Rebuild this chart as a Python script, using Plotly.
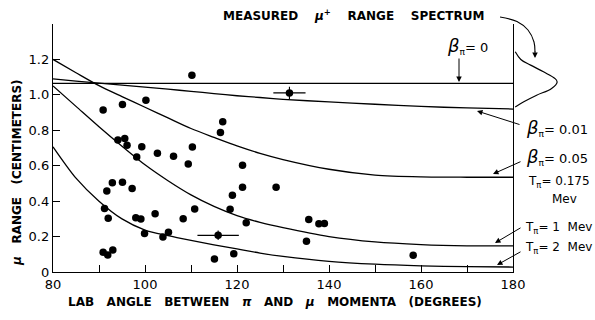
import plotly.graph_objects as go

# ---------------- data ----------------
# measured events: lab angle (deg) and mu range (cm)
event_angle = [110.2, 90.9, 95.1, 100.2, 116.9, 116.4, 94.1, 95.6, 96.1, 99.3,
               102.7, 106.2, 110.3, 109.4, 98.2, 121.2, 128.5, 121.2, 119.0, 118.5,
               122.0, 91.7, 92.9, 95.1, 97.2, 91.2, 92.0, 98.0, 99.1, 102.2,
               108.3, 110.8, 99.9, 103.9, 105.1, 115.1, 119.3, 90.9, 91.9, 93.0,
               135.6, 137.8, 139.0, 135.1, 158.3]
event_range = [1.111, 0.914, 0.946, 0.970, 0.848, 0.788, 0.745, 0.754, 0.716, 0.707,
               0.671, 0.654, 0.705, 0.609, 0.649, 0.603, 0.479, 0.478, 0.433, 0.354,
               0.278, 0.457, 0.504, 0.506, 0.472, 0.359, 0.303, 0.306, 0.299, 0.329,
               0.301, 0.355, 0.218, 0.197, 0.224, 0.073, 0.103, 0.111, 0.096, 0.124,
               0.297, 0.272, 0.274, 0.173, 0.094]

# events with error bars
err_angle = [131.4, 115.9]
err_range = [1.011, 0.207]
err_dangle = [3.5, 4.5]
err_drange = [0.035, 0.027]

# theoretical curves
curve_angle = [80, 85, 90, 95, 100, 105, 110, 115, 120, 125, 130, 140, 150, 160, 170, 180]
beta0_angle = [80, 180]
beta0_range = [1.065, 1.065]
beta001_range = [1.090, 1.078, 1.066, 1.055, 1.044, 1.032, 1.020, 1.007, 0.995, 0.985,
                 0.975, 0.960, 0.947, 0.935, 0.926, 0.920]
beta005_range = [1.200, 1.125, 1.052, 0.990, 0.930, 0.870, 0.810, 0.760, 0.712, 0.670,
                 0.635, 0.580, 0.547, 0.537, 0.535, 0.535]
t1_range = [1.050, 0.935, 0.820, 0.710, 0.605, 0.515, 0.435, 0.370, 0.318, 0.280,
            0.250, 0.200, 0.170, 0.155, 0.148, 0.147]
t2_range = [0.707, 0.530, 0.400, 0.300, 0.237, 0.205, 0.178, 0.153, 0.130, 0.107,
            0.088, 0.060, 0.044, 0.035, 0.030, 0.028]

# measured mu+ range spectrum (range in cm, relative counts)
spectrum_range = [1.243, 1.200, 1.168, 1.130, 1.092, 1.073, 1.036, 0.998, 0.961, 0.932]
spectrum_counts = [0.02, 0.15, 0.38, 0.68, 0.95, 1.00, 0.87, 0.52, 0.22, 0.02]

x_ticks = [80, 100, 120, 140, 160, 180]
y_ticks = [0, 0.2, 0.4, 0.6, 0.8, 1.0, 1.2]
y_ticktext = ["0", "0.2", "0.4", "0.6", "0.8", "1.0", "1.2"]

# ---------------- geometry ----------------
W, H = 595, 320
ML, MB = 53, 48
PW, PH = W - ML, H - MB
PPD = 4.6        # px per degree
PPC = 248 / 1.4  # px per cm
X_END = 80 + PW / PPD
Y_END = PH / PPC


def P(xp, yp):
    """pixel -> overlay (x2, y2) coordinates"""
    return 80 + (xp - ML) / PPD, (PH - yp) / PPC


def Q(xp, yp):
    """pixel -> paper coordinates"""
    return (xp - ML) / PW, (PH - yp) / PH


FONT = "DejaVu Sans"
ink = "black"

fig = go.Figure()

fig.add_trace(go.Scatter(x=beta0_angle, y=beta0_range, mode="lines",
                         line=dict(color=ink, width=1.3)))
for yr in (beta001_range, beta005_range, t1_range, t2_range):
    fig.add_trace(go.Scatter(x=curve_angle, y=yr, mode="lines",
                             line=dict(color=ink, width=1.3, shape="spline", smoothing=0.8)))

fig.add_trace(go.Scatter(x=event_angle, y=event_range, mode="markers",
                         marker=dict(color=ink, size=7.5)))
fig.add_trace(go.Scatter(x=err_angle, y=err_range, mode="markers",
                         marker=dict(color=ink, size=7.5),
                         error_x=dict(type="data", array=err_dangle, width=0, thickness=1.1, color=ink),
                         error_y=dict(type="data", array=err_drange, width=0, thickness=1.1, color=ink)))

# spectrum (on overlay axes, outside the frame)
fig.add_trace(go.Scatter(x=[180.3 + c * 9.3 for c in spectrum_counts], y=spectrum_range,
                         mode="lines", line=dict(color=ink, width=1.2, shape="spline"),
                         xaxis="x2", yaxis="y2"))
# curved arrow from title to spectrum
arc = [P(500, 17), P(517, 21.5), P(528, 30), P(534, 42), P(535, 52)]
fig.add_trace(go.Scatter(x=[a[0] for a in arc], y=[a[1] for a in arc], mode="lines",
                         line=dict(color=ink, width=1.1, shape="spline"),
                         xaxis="x2", yaxis="y2"))

ann = []


def text(xp, yp, s, size=12, xanchor="center", angle=0, weight="normal"):
    x, y = Q(xp, yp)
    ann.append(dict(x=x, y=y, xref="paper", yref="paper", text=s, showarrow=False,
                    xanchor=xanchor, yanchor="middle", textangle=angle,
                    font=dict(family=FONT, size=size, color=ink, weight=weight)))


def arrow(x0, y0, x1, y1):
    hx, hy = P(x1, y1)
    tx, ty = P(x0, y0)
    ann.append(dict(x=hx, y=hy, ax=tx, ay=ty, xref="x2", yref="y2", axref="x2", ayref="y2",
                    text="", showarrow=True, arrowhead=2, arrowsize=1.1, arrowwidth=1,
                    arrowcolor=ink))


sp = "&nbsp;" * 4
text(353, 15, "MEASURED" + sp + "<i>μ</i><sup>+</sup>" + sp + "RANGE" + sp + "SPECTRUM",
     size=12, weight="bold")
s2 = "&nbsp;" * 3
text(275, 302, s2.join(["LAB", "ANGLE", "BETWEEN", "<i>π</i>", "AND", "<i>μ</i>",
                        "MOMENTA", "(DEGREES)"]), size=12, weight="bold")
text(17, 173, s2.join(["<i>μ</i>", "RANGE", "(CENTIMETERS)"]), size=12, angle=-90, weight="bold")

beta = "<span style='font-size:18px'><i>β</i></span><sub>π</sub>"
text(467, 46, beta + "= 0", size=13)
arrow(459, 57, 459, 82)

text(524, 128, beta + "= 0.01", size=13, xanchor="left")
arrow(521, 125, 477, 111)
text(524, 157, beta + "= 0.05", size=13, xanchor="left")
arrow(522, 161, 493, 174)
text(526, 182, "T<sub>π</sub>= 0.175", size=12, xanchor="left")
text(579, 199, "Mev", size=12, xanchor="right")
text(523, 228, "T<sub>π</sub>= 1  Mev", size=12, xanchor="left")
arrow(522, 227, 495, 243)
text(523, 248, "T<sub>π</sub>= 2  Mev", size=12, xanchor="left")
arrow(522, 251, 497, 265)
arrow(535, 50, 535, 58)

fig.update_layout(
    width=W, height=H,
    margin=dict(l=ML, r=0, t=0, b=MB, autoexpand=False),
    paper_bgcolor="white", plot_bgcolor="rgba(0,0,0,0)",
    showlegend=False,
    annotations=ann,
    xaxis=dict(range=[80, 180], domain=[0, 100 * PPD / PW], anchor="y", automargin=False,
               showline=True, linecolor=ink, linewidth=1.4, showgrid=False, zeroline=False,
               tickvals=x_ticks, ticks="inside", ticklen=7, tickwidth=1.2, tickcolor=ink,
               minor=dict(dtick=10, tick0=80, ticks="inside", ticklen=7, tickwidth=1.2, tickcolor=ink),
               tickfont=dict(family=FONT, size=13, color=ink)),
    yaxis=dict(range=[0, 1.4], domain=[0, 1.4 * PPC / PH], anchor="x", automargin=False,
               showline=True, mirror=True, linecolor=ink, linewidth=1.4, showgrid=False,
               zeroline=False, tickvals=y_ticks, ticktext=y_ticktext, ticks="inside",
               ticklen=7, tickwidth=1.2, tickcolor=ink,
               tickfont=dict(family=FONT, size=13, color=ink)),
    xaxis2=dict(range=[80, X_END], domain=[0, 1], anchor="y2", visible=False),
    yaxis2=dict(range=[0, Y_END], domain=[0, 1], anchor="x2", visible=False),
)

fig.write_html("out.html", config={"displayModeBar": False},
               post_script="document.body.style.margin='0';document.body.style.overflow='hidden';")
